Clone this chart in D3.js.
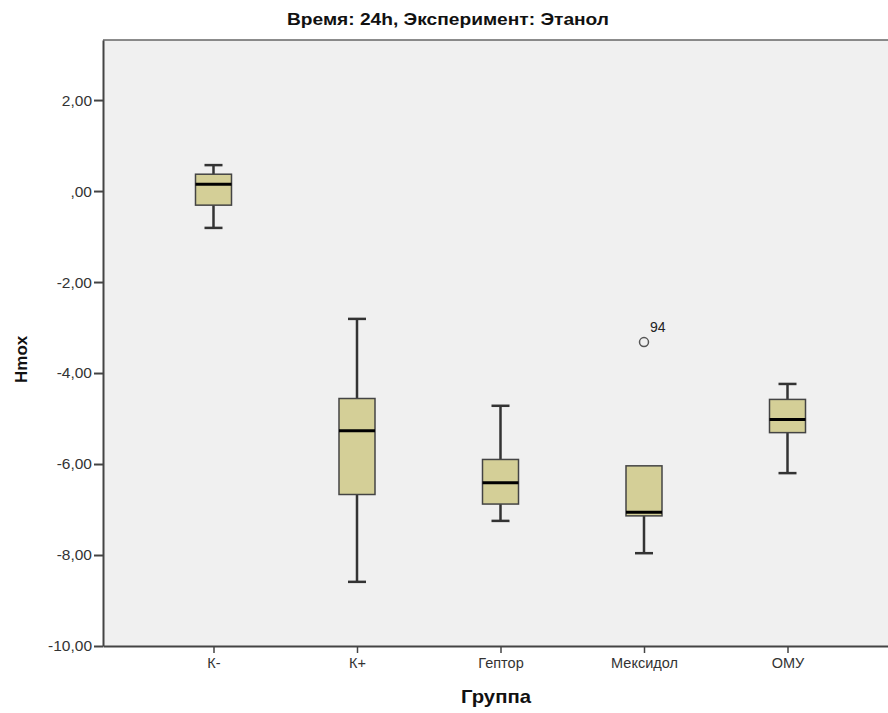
<!DOCTYPE html>
<html>
<head>
<meta charset="utf-8">
<script src="https://cdn.jsdelivr.net/npm/d3@7"></script>
<style>
  body { margin: 0; background: #fff; }
  svg { display: block; }
  text { font-family: "Liberation Sans", Arial, sans-serif; }
</style>
</head>
<body>
<svg id="chart"></svg>
<script>
// data
const groups = ["К-", "К+", "Гептор", "Мексидол", "ОМУ"];
const whiskerLow = [-0.81, -8.59, -7.25, -7.96, -6.20];
const q1 = [-0.31, -6.67, -6.88, -7.14, -5.31];
const medians = [0.15, -5.27, -6.41, -7.06, -5.02];
const q3 = [0.37, -4.56, -5.90, -6.04, -4.58];
const whiskerHigh = [0.57, -2.81, -4.72, -6.04, -4.24];
const outliers = [{group: "Мексидол", value: -3.32, label: "94"}];
const yTicks = [2, 0, -2, -4, -6, -8, -10];
const yTickLabels = ["2,00", ",00", "-2,00", "-4,00", "-6,00", "-8,00", "-10,00"];

const config = {
  width: 888, height: 713,
  margin: {top: 40, right: -10, bottom: 67, left: 103}
};

const svg = d3.select("#chart")
  .attr("width", config.width)
  .attr("height", config.height);

const innerW = config.width - config.margin.left - config.margin.right;
const innerH = config.height - config.margin.top - config.margin.bottom;

const chart = svg.append("g")
  .attr("transform", `translate(${config.margin.left},${config.margin.top})`);

// scales
const x = d3.scalePoint()
  .domain(groups)
  .range([0, innerW])
  .padding(0.77);

const y = d3.scaleLinear()
  .domain([-10, 3.32])
  .range([innerH, 0]);

// plot background
chart.append("rect")
  .attr("width", innerW)
  .attr("height", innerH)
  .attr("fill", "#f0f0f0");

// top border
chart.append("line")
  .attr("x1", 0).attr("x2", innerW)
  .attr("y1", 0).attr("y2", 0)
  .attr("stroke", "#666").attr("stroke-width", 1.5);

// y axis
const yAxis = chart.append("g")
  .call(d3.axisLeft(y)
    .tickValues(yTicks)
    .tickSize(9)
    .tickSizeOuter(0)
    .tickPadding(2)
    .tickFormat((d, i) => yTickLabels[i]));
yAxis.select(".domain").attr("stroke", "#444").attr("stroke-width", 2);
yAxis.selectAll(".tick line").attr("stroke", "#444").attr("stroke-width", 2);
yAxis.selectAll(".tick text")
  .attr("fill", "#333")
  .style("font-size", "15.5px");

// x axis
const xAxis = chart.append("g")
  .attr("transform", `translate(0,${innerH})`)
  .call(d3.axisBottom(x)
    .tickSize(7)
    .tickSizeOuter(0)
    .tickPadding(5));
xAxis.select(".domain").attr("stroke", "#444").attr("stroke-width", 2);
xAxis.selectAll(".tick line").attr("stroke", "#444").attr("stroke-width", 1.5);
xAxis.selectAll(".tick text")
  .attr("fill", "#333")
  .style("font-size", "14.5px");

// boxes
const boxW = 36, capW = 18;
const boxData = groups.map((g, i) => ({
  group: g, lo: whiskerLow[i], q1: q1[i], med: medians[i], q3: q3[i], hi: whiskerHigh[i]
}));

const boxes = chart.append("g").selectAll("g")
  .data(boxData)
  .enter().append("g")
    .attr("transform", d => `translate(${x(d.group)},0)`);

// whiskers
boxes.append("line")
  .attr("x1", 0).attr("x2", 0)
  .attr("y1", d => y(d.hi)).attr("y2", d => y(d.q3))
  .attr("stroke", "#333").attr("stroke-width", 2.5);
boxes.append("line")
  .attr("x1", 0).attr("x2", 0)
  .attr("y1", d => y(d.q1)).attr("y2", d => y(d.lo))
  .attr("stroke", "#333").attr("stroke-width", 2.5);
// caps
boxes.filter(d => d.hi > d.q3).append("line")
  .attr("x1", -capW / 2).attr("x2", capW / 2)
  .attr("y1", d => y(d.hi)).attr("y2", d => y(d.hi))
  .attr("stroke", "#333").attr("stroke-width", 2.5);
boxes.append("line")
  .attr("x1", -capW / 2).attr("x2", capW / 2)
  .attr("y1", d => y(d.lo)).attr("y2", d => y(d.lo))
  .attr("stroke", "#333").attr("stroke-width", 2.5);

// box body
boxes.append("rect")
  .attr("x", -boxW / 2)
  .attr("width", boxW)
  .attr("y", d => y(d.q3))
  .attr("height", d => y(d.q1) - y(d.q3))
  .attr("fill", "#d4cf97")
  .attr("stroke", "#444")
  .attr("stroke-width", 1.5);

// median
boxes.append("line")
  .attr("x1", -boxW / 2).attr("x2", boxW / 2)
  .attr("y1", d => y(d.med)).attr("y2", d => y(d.med))
  .attr("stroke", "#000").attr("stroke-width", 3);

// outliers
const out = chart.append("g").selectAll("g")
  .data(outliers)
  .enter().append("g");
out.append("circle")
  .attr("cx", d => x(d.group))
  .attr("cy", d => y(d.value))
  .attr("r", 4.5)
  .attr("fill", "none")
  .attr("stroke", "#555")
  .attr("stroke-width", 1.5);
out.append("text")
  .attr("x", d => x(d.group) + 6)
  .attr("y", d => y(d.value) - 10)
  .attr("fill", "#222")
  .style("font-size", "14px")
  .text(d => d.label);

// title (condensed in the original, so squeeze to its width)
svg.append("text")
  .attr("x", 448)
  .attr("y", 25)
  .attr("text-anchor", "middle")
  .attr("textLength", 322)
  .attr("lengthAdjust", "spacingAndGlyphs")
  .attr("fill", "#111")
  .style("font-weight", "bold")
  .style("font-size", "17px")
  .text("Время: 24h, Эксперимент: Этанол");

// axis titles
svg.append("text")
  .attr("transform", `translate(27,${config.margin.top + y(-3.7)}) rotate(-90)`)
  .attr("text-anchor", "middle")
  .attr("fill", "#111")
  .style("font-weight", "bold")
  .style("font-size", "17px")
  .text("Hmox");

svg.append("text")
  .attr("x", 496)
  .attr("y", 703)
  .attr("text-anchor", "middle")
  .attr("textLength", 70)
  .attr("lengthAdjust", "spacingAndGlyphs")
  .attr("fill", "#111")
  .style("font-weight", "bold")
  .style("font-size", "19px")
  .text("Группа");
</script>
</body>
</html>
